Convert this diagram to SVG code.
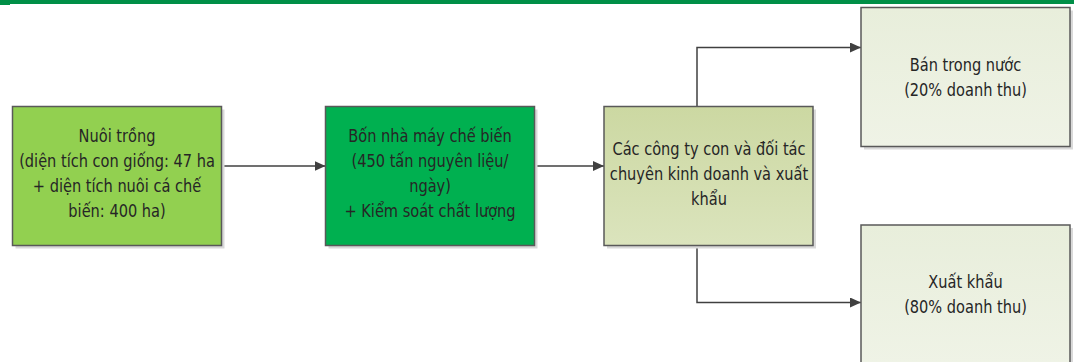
<svg xmlns="http://www.w3.org/2000/svg" width="1075" height="362" viewBox="0 0 1075 362">
<style>
.box{stroke:#595959;stroke-width:1.5}
.sh{fill:#d9d9d9}
.t{font-family:"DejaVu Sans Condensed","DejaVu Sans",sans-serif;font-size:18px;fill:#262626;text-anchor:middle}
.c{fill:none;stroke:#404040;stroke-width:1.5}
</style>
<defs>
<marker id="ah" markerWidth="11" markerHeight="10" refX="11" refY="5" orient="auto" markerUnits="userSpaceOnUse">
<path d="M0,0 L11,5 L0,10 Z" fill="#404040"/>
</marker>
<linearGradient id="g3" x1="0" y1="0" x2="0" y2="1">
<stop offset="0" stop-color="#ccd8a2"/>
<stop offset="1" stop-color="#dbe4bd"/>
</linearGradient>
<linearGradient id="g4" x1="0" y1="0" x2="0" y2="1">
<stop offset="0" stop-color="#e8eedb"/>
<stop offset="1" stop-color="#eff3e6"/>
</linearGradient>
</defs>
<rect x="0" y="0" width="1074" height="4" fill="#008f47"/>
<rect x="0" y="0" width="10" height="5" fill="#008f47"/>
<g id="connectors">
<line class="c" x1="221.5" y1="166" x2="325.5" y2="166" marker-end="url(#ah)"/>
<line class="c" x1="534.5" y1="166" x2="604" y2="166" marker-end="url(#ah)"/>
<polyline class="c" points="697,106.5 697,47.5 861,47.5" marker-end="url(#ah)"/>
<polyline class="c" points="697,245.5 697,302.5 861,302.5" marker-end="url(#ah)"/>
</g>
<g id="n1">
<rect class="sh" x="15.5" y="109.5" width="209" height="139"/>
<rect class="box" x="12.5" y="106.5" width="209" height="139" fill="#92d050"/>
<g transform="translate(117,0) scale(0.9,1)">
<text class="t" x="0" y="142.5">Nuôi trồng</text>
<text class="t" x="0" y="167.5">(diện tích con giống: 47 ha</text>
<text class="t" x="0" y="192.5">+ diện tích nuôi cá chế</text>
<text class="t" x="0" y="217.5">biến: 400 ha)</text>
</g>
</g>
<g id="n2">
<rect class="sh" x="328.5" y="109.5" width="209" height="139"/>
<rect class="box" x="325.5" y="106.5" width="209" height="139" fill="#00b050"/>
<g transform="translate(430,0) scale(0.9,1)">
<text class="t" x="0" y="142.5">Bốn nhà máy chế biến</text>
<text class="t" x="0" y="167.5">(450 tấn nguyên liệu/</text>
<text class="t" x="0" y="192.5">ngày)</text>
<text class="t" x="0" y="217.5">+ Kiểm soát chất lượng</text>
</g>
</g>
<g id="n3">
<rect class="sh" x="607" y="109.5" width="209" height="139"/>
<rect class="box" x="604" y="106.5" width="209" height="139" fill="url(#g3)"/>
<g transform="translate(709,0) scale(0.9,1)">
<text class="t" x="0" y="155.5">Các công ty con và đối tác</text>
<text class="t" x="0" y="180.5">chuyên kinh doanh và xuất</text>
<text class="t" x="0" y="205.5">khẩu</text>
</g>
</g>
<g id="n4">
<rect class="sh" x="864" y="10.5" width="209" height="139"/>
<rect class="box" x="861" y="7.5" width="209" height="139" fill="url(#g4)"/>
<g transform="translate(965.5,0) scale(0.9,1)">
<text class="t" x="0" y="71">Bán trong nước</text>
<text class="t" x="0" y="96">(20% doanh thu)</text>
</g>
</g>
<g id="n5">
<rect class="sh" x="864" y="228" width="209" height="139"/>
<rect class="box" x="861" y="225" width="209" height="139" fill="url(#g4)"/>
<g transform="translate(965.5,0) scale(0.9,1)">
<text class="t" x="0" y="288">Xuất khẩu</text>
<text class="t" x="0" y="313">(80% doanh thu)</text>
</g>
</g>
</svg>
